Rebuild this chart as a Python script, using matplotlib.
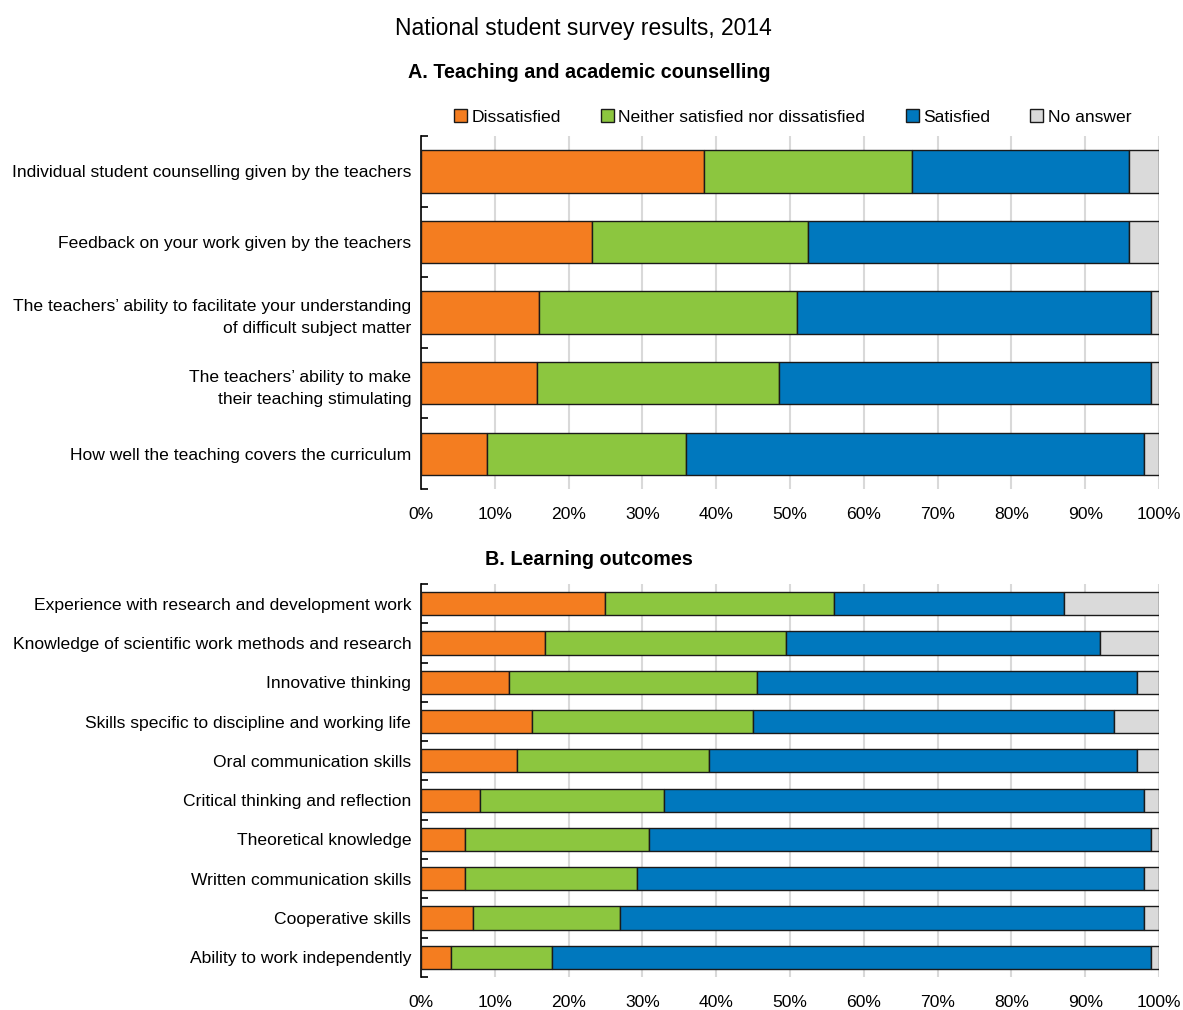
import matplotlib
matplotlib.use('Agg')
import matplotlib.pyplot as plt
import numpy as np
from matplotlib.patches import Patch

plt.rcParams['font.family'] = ['Liberation Sans Narrow', 'Liberation Sans', 'DejaVu Sans']

series = ['Dissatisfied', 'Neither satisfied nor dissatisfied', 'Satisfied', 'No answer']
colors = ['#F47D20', '#8CC63F', '#0078BE', '#DADADA']

# Panel A
cats_a = ['Individual student counselling given by the teachers',
          'Feedback on your work given by the teachers',
          'The teachers\u2019 ability to facilitate your understanding\nof difficult subject matter',
          'The teachers\u2019 ability to make\ntheir teaching stimulating',
          'How well the teaching covers the curriculum']
dis_a = [38.3, 23.2, 16.0, 15.7, 8.9]
neu_a = [28.2, 29.2, 34.9, 32.8, 27.0]
sat_a = [29.4, 43.5, 48.0, 50.4, 62.1]
na_a = [4.1, 4.1, 1.1, 1.1, 2.0]

# Panel B
cats_b = ['Experience with research and development work',
          'Knowledge of scientific work methods and research',
          'Innovative thinking',
          'Skills specific to discipline and working life',
          'Oral communication skills',
          'Critical thinking and reflection',
          'Theoretical knowledge',
          'Written communication skills',
          'Cooperative skills',
          'Ability to work independently']
dis_b = [24.9, 16.8, 11.9, 15.0, 13.0, 8.0, 6.0, 6.0, 7.0, 4.1]
neu_b = [31.1, 32.7, 33.6, 30.0, 26.0, 24.9, 24.9, 23.3, 20.0, 13.7]
sat_b = [31.1, 42.5, 51.5, 48.9, 58.0, 65.1, 68.0, 68.7, 71.0, 81.1]
na_b = [12.9, 8.0, 3.0, 6.1, 3.0, 2.0, 1.1, 2.0, 2.0, 1.1]

xticks = np.arange(0, 101, 10)
xticklabels = [f'{t}%' for t in xticks]

FS = 12.6


def draw_panel(ax, cats, values, bar_h):
    n = len(cats)
    y = np.arange(n)
    left = np.zeros(n)
    for vals, col in zip(values, colors):
        ax.barh(y, vals, left=left, height=bar_h, color=col,
                edgecolor='#1a1a1a', linewidth=1.0, zorder=3)
        left += np.array(vals)
    ax.set_xlim(0, 100)
    ax.set_ylim(n - 0.5, -0.5)
    ax.set_yticks(y)
    ax.set_yticklabels(cats, fontsize=FS, linespacing=1.6)
    ax.tick_params(axis='y', which='major', length=0, pad=7)
    # small inward ticks at the category boundaries
    ax.set_yticks(np.arange(n + 1) - 0.5, minor=True)
    ax.tick_params(axis='y', which='minor', length=5, direction='in', width=1.2)
    ax.set_xticks(xticks)
    ax.set_xticklabels(xticklabels, fontsize=FS)
    ax.tick_params(axis='x', length=0, pad=13)
    ax.grid(axis='x', color='#d9d9d9', linewidth=1.5, zorder=0)
    for s in ['top', 'right', 'bottom']:
        ax.spines[s].set_visible(False)
    ax.spines['left'].set_linewidth(1.2)
    for lab in ax.get_yticklabels():
        lab.set_horizontalalignment('right')
        lab.set_multialignment('right')


fig = plt.figure(figsize=(11.83, 10.10), dpi=100)
ax_a = fig.add_axes([0.3559, 0.5158, 0.6238, 0.3495])
ax_b = fig.add_axes([0.3559, 0.0327, 0.6238, 0.3891])

draw_panel(ax_a, cats_a, [dis_a, neu_a, sat_a, na_a], 0.6)
draw_panel(ax_b, cats_b, [dis_b, neu_b, sat_b, na_b], 0.59)

fig.text(0.493, 0.972, 'National student survey results, 2014', ha='center', va='center', fontsize=16.5)
fig.text(0.498, 0.928, 'A. Teaching and academic counselling', ha='center', va='center',
         fontsize=14.2, fontweight='bold')
fig.text(0.498, 0.446, 'B. Learning outcomes', ha='center', va='center',
         fontsize=14.2, fontweight='bold')

handles = [Patch(facecolor=c, edgecolor='#1a1a1a', linewidth=1.0) for c in colors]
fig.legend(handles, series, loc='center', bbox_to_anchor=(0.67, 0.884), ncol=4,
           frameon=False, fontsize=FS, handlelength=0.75, handleheight=0.75,
           handletextpad=0.25, columnspacing=2.3, borderaxespad=0)

plt.savefig('out.png', dpi=100)
